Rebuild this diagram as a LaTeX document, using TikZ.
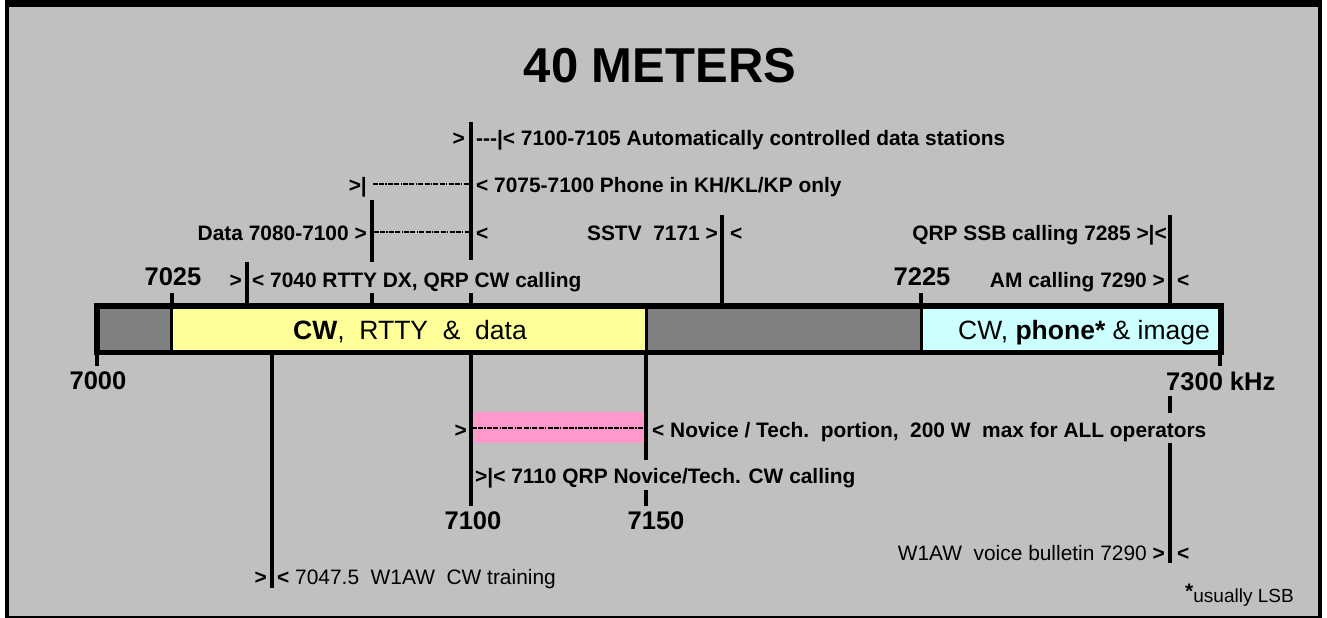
\documentclass[tikz,border=0pt]{standalone}
\usepackage{fontspec}
\setmainfont{Liberation Sans}
\definecolor{bg}{HTML}{C0C0C0}
\definecolor{dk}{HTML}{808080}
\definecolor{yel}{HTML}{FFFF99}
\definecolor{cyn}{HTML}{CCFFFF}
\definecolor{pnk}{HTML}{FF99CC}
\begin{document}
\begin{tikzpicture}[x=1pt,y=-1pt,
 lbl/.style={inner sep=0pt,font=\fontsize{20.9}{24}\selectfont\bfseries},
 rlbl/.style={inner sep=0pt,font=\fontsize{20.9}{24}\selectfont},
 num/.style={inner sep=0pt,font=\fontsize{25.5}{30}\selectfont\bfseries},
 bartxt/.style={inner sep=0pt,font=\fontsize{26.5}{30}\selectfont},
 vline/.style={line width=3.2pt},
 divline/.style={line width=3pt},
 dashdot/.style={line width=1.8pt,dash pattern=on 5pt off 1.2pt on 5pt off 1.2pt on 1.5pt off 1.2pt},
]
\useasboundingbox (0,0) rectangle (1327,618);
\fill[white] (0,0) rectangle (1327,618);
\fill[black] (5,0) rectangle (1322,618);
\fill[bg] (9,7) rectangle (1317.5,616);

% title
\node[anchor=base,inner sep=0pt,font=\fontsize{49}{55}\selectfont\bfseries] (title) at (660,82) {40 METERS};

% band bar
\fill[dk] (99,309) rectangle (171,350);
\fill[yel] (171,309) rectangle (646,350);
\fill[dk] (646,309) rectangle (921,350);
\fill[cyn] (921,309) rectangle (1218.5,350);
\coordinate (d1t) at (171.5,309); \coordinate (d1b) at (171.5,350);
\coordinate (d2t) at (646.5,309); \coordinate (d2b) at (646.5,350);
\coordinate (d3t) at (921,309);   \coordinate (d3b) at (921,350);
\draw[divline] (d1t) -- (d1b);
\draw[divline] (d2t) -- (d2b);
\draw[divline] (d3t) -- (d3b);
\draw[line width=5.5pt] (96.8,306) rectangle (1220.8,352.6);
\node[bartxt,anchor=base] (cwtxt) at (410,339) {\textbf{CW},\ \ RTTY\ \ \&\ \ data};
\node[bartxt,anchor=base] (phtxt) at (1084,339) {CW, \textbf{phone*} \& image};

% pink novice portion
\fill[pnk] (472,412) rectangle (644.5,443);
\coordinate (nvl) at (472,428); \coordinate (nvr) at (644.5,428);
\draw[dashdot] (nvl) -- (nvr);

% ticks
\coordinate (t7000a) at (97,355);  \coordinate (t7000b) at (97,366);
\coordinate (t7025a) at (172,293); \coordinate (t7025b) at (172,304);
\coordinate (t7225a) at (921,293); \coordinate (t7225b) at (921,304);
\coordinate (t7300a) at (1220,355);\coordinate (t7300b) at (1220,366);
\draw[vline] (t7000a) -- (t7000b);
\draw[vline] (t7025a) -- (t7025b);
\draw[vline] (t7225a) -- (t7225b);
\draw[vline] (t7300a) -- (t7300b);

% upper marker lines
\coordinate (l7040a) at (247,262); \coordinate (l7040b) at (247,304);
\draw[vline] (l7040a) -- (l7040b);
\coordinate (l7080a) at (372,200); \coordinate (l7080b) at (372,262);
\coordinate (l7080c) at (372,293); \coordinate (l7080d) at (372,304);
\draw[vline] (l7080a) -- (l7080b);
\draw[vline] (l7080c) -- (l7080d);
\coordinate (l7100a) at (471,122); \coordinate (l7100b) at (471,260);
\coordinate (l7100c) at (471,293); \coordinate (l7100d) at (471,304);
\draw[vline] (l7100a) -- (l7100b);
\draw[vline] (l7100c) -- (l7100d);
\coordinate (l7171a) at (722,215); \coordinate (l7171b) at (722,304);
\draw[vline] (l7171a) -- (l7171b);
\coordinate (l7290a) at (1170,215); \coordinate (l7290b) at (1170,304);
\draw[vline] (l7290a) -- (l7290b);

% lower marker lines
\coordinate (m7047a) at (272,355); \coordinate (m7047b) at (272,588);
\draw[vline] (m7047a) -- (m7047b);
\coordinate (m7100a) at (471,355); \coordinate (m7100b) at (471,506);
\draw[vline] (m7100a) -- (m7100b);
\coordinate (m7150a) at (646,355); \coordinate (m7150b) at (646,460);
\coordinate (m7150c) at (646,490); \coordinate (m7150d) at (646,506);
\draw[vline] (m7150a) -- (m7150b);
\draw[vline] (m7150c) -- (m7150d);
\coordinate (m7290a) at (1170,396); \coordinate (m7290b) at (1170,413);
\coordinate (m7290c) at (1170,443); \coordinate (m7290d) at (1170,563);
\draw[vline] (m7290a) -- (m7290b);
\draw[vline] (m7290c) -- (m7290d);

% dashed ranges
\coordinate (r2l) at (373,184); \coordinate (r2r) at (469.5,184);
\draw[dashdot] (r2l) -- (r2r);
\coordinate (r3l) at (374,232); \coordinate (r3r) at (469.5,232);
\draw[dashdot] (r3l) -- (r3r);

% row 1
\node[lbl,anchor=base east] (r1a) at (465,145) {>};
\node[lbl,anchor=base west] (r1b) at (476,145) {-{}-{}-|< 7100-7105 Automatically controlled data stations};
% row 2
\node[lbl,anchor=base east] (r2a) at (367,192) {>|};
\node[lbl,anchor=base west] (r2b) at (476,192) {< 7075-7100 Phone in KH/KL/KP only};
% row 3
\node[lbl,anchor=base east] (r3a) at (367,240) {Data 7080-7100 >};
\node[lbl,anchor=base west] (r3b) at (476,240) {<};
\node[lbl,anchor=base east] (r3c) at (718,240) {SSTV\ \ 7171 >};
\node[lbl,anchor=base west] (r3d) at (730,240) {<};
\node[lbl,anchor=base east] (r3e) at (1167,240) {QRP SSB calling 7285 >|<};
% row 4
\node[num,anchor=base] (n7025) at (173,285) {7025};
\node[lbl,anchor=base east] (r4a) at (242,287) {>};
\node[lbl,anchor=base west] (r4b) at (252,287) {< 7040 RTTY DX, QRP CW calling};
\node[num,anchor=base] (n7225) at (922,285) {7225};
\node[lbl,anchor=base east] (r4c) at (1165,287) {AM calling 7290 >};
\node[lbl,anchor=base west] (r4d) at (1177,287) {<};

% below bar
\node[num,anchor=base] (n7000) at (98,389) {7000};
\node[num,anchor=base west] (n7300) at (1166,390) {7300 kHz};
\node[lbl,anchor=base east] (nva) at (467,437) {>};
\node[lbl,anchor=base west] (nvb) at (652,437) {< Novice / Tech.\ \ portion,\ \ 200 W\ \ max for ALL operators};
\node[lbl,anchor=base west] (q7110) at (475,483) {>|< 7110 QRP Novice/Tech. CW calling};
\node[num,anchor=base] (n7100) at (473,529) {7100};
\node[num,anchor=base] (n7150) at (656,529) {7150};
\node[rlbl,anchor=base east] (vb1) at (1165,560) {W1AW\ \ voice bulletin 7290 \textbf{>}};
\node[lbl,anchor=base west] (vb2) at (1177,560) {<};
\node[lbl,anchor=base east] (tr1) at (267,584) {>};
\node[rlbl,anchor=base west] (tr2) at (277,584) {\textbf{<} 7047.5\ \ W1AW\ \ CW training};
\node[inner sep=0pt,anchor=base west,font=\fontsize{19}{22}\selectfont] (lsb) at (1185,602) {\raisebox{4pt}{\fontsize{21}{24}\selectfont\textbf{*}}usually LSB};
\end{tikzpicture}
\end{document}
